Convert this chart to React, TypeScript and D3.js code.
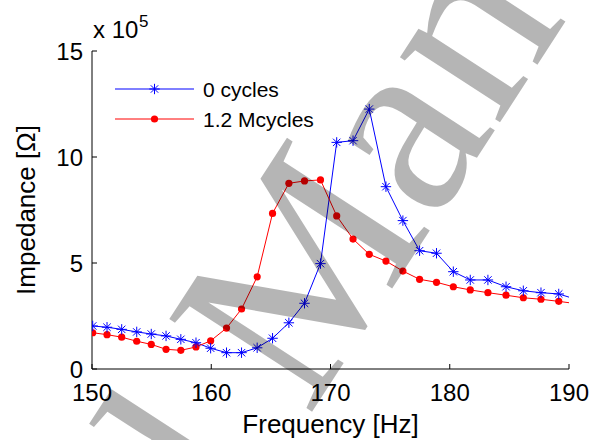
import React from "react";
import * as d3 from "d3";

const freq = [150.06, 151.26, 152.49, 153.75, 154.97, 156.21, 157.45, 158.72, 159.95, 161.28, 162.54, 163.85, 165.14, 166.51, 167.82, 169.16, 170.52, 171.89, 173.25, 174.65, 176.07, 177.47, 178.89, 180.3, 181.72, 183.2, 184.72, 186.17, 187.65, 189.14, 190.63];
const cycles0 = [2.03, 1.97, 1.87, 1.75, 1.65, 1.56, 1.4, 1.24, 0.98, 0.77, 0.77, 1.0, 1.45, 2.18, 3.1, 4.97, 10.69, 10.77, 12.26, 8.6, 7.0, 5.58, 5.46, 4.59, 4.2, 4.2, 3.88, 3.69, 3.6, 3.54, 3.28];
const cycles12M = [1.71, 1.62, 1.5, 1.31, 1.16, 0.93, 0.88, 1.04, 1.33, 1.93, 2.83, 4.35, 7.34, 8.76, 8.87, 8.92, 7.22, 6.13, 5.41, 5.09, 4.62, 4.23, 4.09, 3.88, 3.73, 3.6, 3.48, 3.36, 3.29, 3.19, 3.08];
const xTicks = [150, 160, 170, 180, 190];
const yTicks = [0, 5, 10, 15];
const seriesNames = ["0 cycles", "1.2 Mcycles"];
const watermarkWords = ["Accepted", "Manuscript"];

const W = 595, H = 440;
const L = 92, R = 569, T = 51, B = 369;
const font = "'Liberation Sans', Arial, Helvetica, sans-serif";
const WM_SIZE = 260;

function Star({ cx, cy, color }: { cx: number; cy: number; color: string }) {
  const s = 5.2, d = 3.7;
  return (
    <g stroke={color} strokeWidth={1}>
      <line x1={cx - s} y1={cy} x2={cx + s} y2={cy} />
      <line x1={cx} y1={cy - s} x2={cx} y2={cy + s} />
      <line x1={cx - d} y1={cy - d} x2={cx + d} y2={cy + d} />
      <line x1={cx - d} y1={cy + d} x2={cx + d} y2={cy - d} />
    </g>
  );
}

export default function App() {
  const x = d3.scaleLinear().domain([150, 190]).range([L, R]);
  const y = d3.scaleLinear().domain([0, 15]).range([B, T]);
  const line = d3.line<number>().x((_, i) => x(freq[i])).y((v) => y(v));
  const blue = "#0000ff", red = "#ff0000";
  return (
    <svg width={W} height={H} style={{ position: "absolute", left: 0, top: 0, background: "#fff" }} fontFamily={font}>
      <defs>
        <clipPath id="plot">
          <rect x={L} y={T - 10} width={R - L} height={B - T + 20} />
        </clipPath>
      </defs>
      {/* axes */}
      <line x1={L} y1={B} x2={R} y2={B} stroke="#000" strokeWidth={1} />
      <line x1={L} y1={B} x2={L} y2={T} stroke="#000" strokeWidth={1} />
      {xTicks.map((t) => (
        <g key={"x" + t}>
          <line x1={x(t)} x2={x(t)} y1={B} y2={B - 5} stroke="#000" />
          <text x={x(t)} y={401} fontSize={24} textAnchor="middle" fill="#000">{t}</text>
        </g>
      ))}
      {yTicks.map((t) => (
        <g key={"y" + t}>
          <line x1={L} x2={L + 5} y1={y(t)} y2={y(t)} stroke="#000" />
          <text x={83} y={y(t) + 8.5} fontSize={24} textAnchor="end" fill="#000">{t}</text>
        </g>
      ))}
      <text x={93} y={38} fontSize={24} fill="#000">x 10</text>
      <text x={139} y={27} fontSize={17} fill="#000">5</text>
      <text x={330.5} y={433} fontSize={26} textAnchor="middle" fill="#000">Frequency [Hz]</text>
      <text transform="translate(35,210) rotate(-90)" fontSize={26} textAnchor="middle" fill="#000">Impedance [Ω]</text>

      {/* series */}
      <g clipPath="url(#plot)">
        <path d={line(cycles0) || ""} fill="none" stroke={blue} strokeWidth={1} />
        <path d={line(cycles12M) || ""} fill="none" stroke={red} strokeWidth={1} />
        {cycles12M.map((v, i) => (
          <circle key={"r" + i} cx={x(freq[i])} cy={y(v)} r={3.6} fill={red} />
        ))}
        {cycles0.map((v, i) => (
          <Star key={"b" + i} cx={x(freq[i])} cy={y(v)} color={blue} />
        ))}
      </g>

      {/* legend */}
      <line x1={115} x2={194} y1={89} y2={89} stroke={blue} />
      <Star cx={154.5} cy={89} color={blue} />
      <text x={203} y={97} fontSize={21} fill="#000">{seriesNames[0]}</text>
      <line x1={115} x2={194} y1={119} y2={119} stroke={red} />
      <circle cx={154.5} cy={119} r={3.6} fill={red} />
      <text x={203} y={127} fontSize={21} fill="#000">{seriesNames[1]}</text>

      {/* watermark */}
      <g transform="translate(308,418) rotate(-57)" fontSize={WM_SIZE} fontFamily="'Liberation Serif', 'Times New Roman', serif" fill="#000" fillOpacity={0.29}>
        <text x={-0.25 * WM_SIZE} y={0} textAnchor="end">{watermarkWords[0]}</text>
        <text x={0} y={0}>{watermarkWords[1]}</text>
      </g>
    </svg>
  );
}
